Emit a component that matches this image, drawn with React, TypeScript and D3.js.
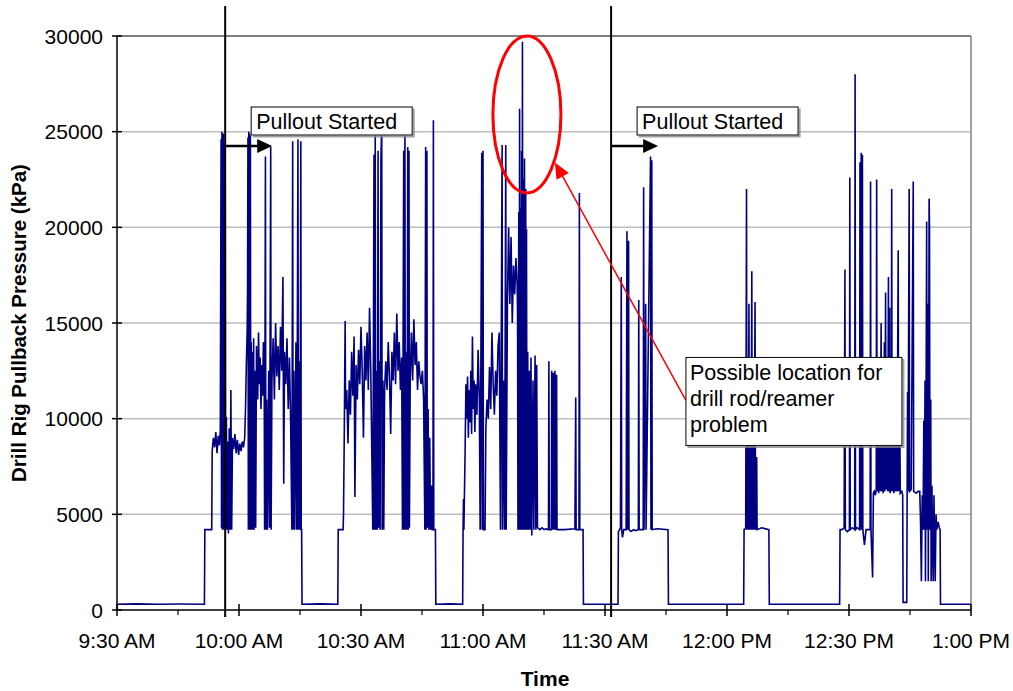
import React from 'react';
import * as d3 from 'd3';

// time = minutes after 9:30 AM, pressure in kPa
const firstPass: [number, number][] = [
  [0, 300], [5, 320], [10, 300], [15, 310], [21.5, 300],
  [21.6, 4200], [23.3, 4200],
  [23.4, 8300], [23.7, 9000], [24.0, 8500], [24.3, 9300], [24.6, 8200], [24.9, 9100], [25.2, 8600], [25.4, 9400],
  [25.6, 24600], [25.7, 4300], [25.8, 25000], [25.9, 4200], [26.0, 24800], [26.1, 4200], [26.2, 24900], [26.3, 4300],
  [26.4, 24400], [26.5, 8000], [26.6, 24300], [26.7, 4200], [26.9, 10100], [27.0, 4200], [27.2, 8800], [27.4, 4000],
  [27.6, 9500], [27.8, 4200], [28.0, 11500], [28.2, 4200], [28.4, 9000],
  [28.7, 8400], [29.0, 9200], [29.3, 8200], [29.6, 8900], [29.9, 8100], [30.2, 8700], [30.5, 8300], [30.8, 8800],
  [31.1, 8500], [31.4, 9000], [31.6, 10500], [31.8, 12800], [32.0, 14500], [32.1, 16700],
  [32.2, 24700], [32.3, 4200], [32.4, 25000], [32.5, 4200], [32.6, 24900], [32.7, 13000], [32.8, 24800], [32.9, 4200],
  [33.0, 14000], [33.1, 4200], [33.3, 13500], [33.4, 4200], [33.6, 14200], [33.7, 4200], [33.9, 12500], [34.1, 4300],
  [34.3, 13800], [34.6, 11000], [34.8, 14500], [35.0, 11800], [35.2, 13200], [35.4, 10500], [35.6, 12800],
  [35.8, 11200], [36.0, 14000], [36.2, 12000],
  [36.3, 4200], [36.5, 23700], [36.6, 4200], [36.8, 11000], [37.0, 4200], [37.3, 12500], [37.5, 4300], [37.8, 24200],
  [37.9, 4200], [38.1, 12000], [38.4, 14200], [38.7, 11000], [39.0, 15000], [39.3, 12200], [39.6, 13800],
  [39.9, 11500], [40.2, 14800], [40.5, 12500], [40.8, 17400], [41.0, 6600], [41.2, 13500], [41.5, 11800],
  [41.8, 14200], [42.1, 10500], [42.4, 13200], [42.7, 9800],
  [43.0, 4200], [43.2, 24500], [43.3, 4200], [43.5, 12500], [43.7, 4200], [44.0, 14000], [44.2, 4200],
  [44.5, 24600], [44.6, 4200], [44.8, 13000], [45.0, 4200], [45.2, 24500], [45.3, 4200], [45.4, 4200],
  [45.5, 300], [50, 320], [54.3, 300],
];

const secondPass: [number, number][] = [
  [54.4, 4200], [55.6, 4200],
  [55.7, 5000], [55.9, 9500], [56.1, 15100], [56.2, 10500], [56.5, 11500], [56.8, 8700], [57.1, 12000],
  [57.4, 10200], [57.7, 13500], [58.0, 11200], [58.3, 14300], [58.5, 5900], [58.8, 12800], [59.1, 11000],
  [59.4, 13600], [59.7, 11800], [60.0, 14800], [60.3, 12500], [60.6, 9000], [60.9, 13800], [61.2, 12000],
  [61.5, 14500], [61.8, 11500], [62.1, 15800], [62.4, 12500],
  [62.9, 4200], [63.2, 23800], [63.3, 4200], [63.5, 24900], [63.6, 4200], [63.8, 12500], [64.0, 4200],
  [64.2, 24000], [64.3, 4300], [64.5, 13000], [64.7, 4200], [64.9, 23600], [65.1, 25300], [65.2, 4200],
  [65.4, 12000], [65.6, 4200], [65.8, 11500],
  [66.1, 13000], [66.4, 11500], [66.7, 14000], [67.0, 12200], [67.3, 9200], [67.6, 13500], [67.9, 12000],
  [68.2, 14500], [68.5, 11800], [68.8, 15500], [69.1, 12500], [69.4, 14000], [69.7, 11500], [70.0, 13200],
  [70.2, 4200], [70.5, 24000], [70.6, 4200], [70.8, 25100], [70.9, 4200], [71.1, 13500], [71.3, 4200],
  [71.5, 24200], [71.6, 4200], [71.8, 24000], [71.9, 4300], [72.1, 12000],
  [72.4, 14500], [72.7, 12000], [73.0, 15200], [73.3, 12800], [73.6, 14000], [73.9, 11500], [74.2, 13000],
  [74.5, 12200], [74.8, 11800], [75.1, 12500], [75.4, 11000],
  [75.7, 4200], [75.9, 24200], [76.0, 4200], [76.2, 24000], [76.3, 4300], [76.5, 10500], [76.7, 4200],
  [76.9, 9000], [77.1, 4200], [77.3, 6500], [77.5, 4200], [77.7, 4200], [77.8, 25600], [77.9, 4200], [78.3, 4200],
  [78.4, 300], [82, 320], [85.0, 300],
];

const thirdPass: [number, number][] = [
  [85.1, 4200], [85.2, 5800], [85.3, 4200], [85.6, 8300], [85.8, 11800],
  [86.0, 10000], [86.2, 12200], [86.4, 9000], [86.6, 11500], [86.8, 9800], [87.0, 12500], [87.2, 9200],
  [87.4, 14300], [87.6, 10500], [87.8, 12000], [88.0, 9300], [88.2, 11800], [88.5, 10200], [88.8, 13600], [89.1, 11000],
  [89.3, 4200], [89.7, 23900], [89.8, 4200], [90.0, 24000], [90.1, 4200], [90.5, 4200], [90.7, 9500],
  [91.0, 11000], [91.3, 10000], [91.6, 12700], [91.9, 10500], [92.2, 14500], [92.5, 11800], [92.8, 10200],
  [93.1, 12500], [93.4, 11200], [93.7, 13800], [94.0, 14500],
  [94.3, 4200], [94.7, 24300], [94.8, 4200], [95.1, 12000], [95.3, 4200], [95.6, 24300], [95.7, 4200], [96.0, 16000],
  [96.3, 20000], [96.6, 16000], [96.9, 19500], [97.2, 15000], [97.5, 18000], [97.8, 16500], [98.1, 18400],
  [98.4, 17000], [98.5, 15500],
  [98.6, 4200], [98.8, 20800], [98.9, 4200], [99.0, 26200], [99.1, 4200], [99.2, 21000], [99.3, 4200],
  [99.5, 24000], [99.6, 4200], [99.7, 29700], [99.8, 4200], [99.9, 22500], [100.0, 4200], [100.2, 23600],
  [100.3, 4200], [100.5, 22000], [100.6, 4200], [100.7, 19900], [100.8, 4200],
  [101.0, 13500], [101.2, 4200], [101.4, 12500], [101.6, 4200], [101.8, 13200], [102.0, 3900], [102.3, 12000],
  [102.5, 4200], [102.8, 13300], [103.0, 4200], [103.2, 12800], [103.4, 4300],
  [104.0, 4200], [104.5, 4300], [105.0, 4200], [105.5, 4250], [106.0, 4200],
  [106.1, 4200], [106.2, 13000], [106.3, 4200], [106.8, 4200], [106.9, 12500], [107.0, 4200], [107.3, 12400],
  [107.4, 4200], [107.7, 12500], [107.8, 4200], [108.1, 12300], [108.2, 4200],
  [110, 4200], [112.6, 4250], [112.8, 11100], [112.9, 4200], [113.6, 4200], [113.7, 21800], [113.8, 4200], [114.6, 4200],
  [114.7, 300], [118, 300], [123.2, 300],
];

const fourthPass: [number, number][] = [
  [123.3, 4100], [123.6, 4200], [123.8, 4300], [124.0, 17400], [124.1, 4200], [124.3, 3800], [124.6, 4200],
  [125.2, 4200], [125.4, 19800], [125.5, 4200], [125.8, 19300], [125.9, 4200], [126.4, 4100], [127.0, 4200],
  [127.5, 4150], [128.2, 4200], [128.3, 16200], [128.4, 4200], [129.4, 4200], [129.5, 22100], [129.6, 4200],
  [130.0, 16000], [130.1, 4200], [131.2, 23700], [131.3, 4200], [131.5, 23500], [131.6, 4200],
  [133, 4250], [135.5, 4200],
  [135.6, 300], [145, 300], [154.1, 300],
];

const fifthPass: [number, number][] = [
  [154.2, 4200], [154.3, 4200], [154.6, 4300], [154.8, 22000], [154.9, 4200], [155.1, 10000], [155.2, 4200],
  [155.4, 16000], [155.5, 4200], [155.8, 12000], [155.9, 4200], [156.1, 17700], [156.2, 4200], [156.5, 9000],
  [156.6, 4200], [156.9, 16100], [157.0, 4200], [157.3, 8000], [157.4, 4200], [158.5, 4300], [160.3, 4200],
  [160.4, 300], [170, 300], [177.7, 300],
];

const sixthPass: [number, number][] = [
  [177.8, 4200], [178.3, 4200], [178.8, 4300], [179.0, 17800], [179.1, 4200], [179.6, 4100], [180.1, 4200],
  [180.2, 22600], [180.3, 4200], [180.8, 4300], [181.4, 4200], [181.5, 28000], [181.6, 4200], [182.0, 4300],
  [182.6, 4200], [182.7, 23400], [182.8, 4200], [183.0, 23900], [183.1, 4200], [183.3, 23800], [183.4, 4200],
  [183.8, 3400], [184.2, 4200], [185.2, 4200], [185.3, 22400], [185.4, 4200], [185.8, 1700], [186.0, 6100],
  [186.2, 6200], [186.5, 6000], [186.7, 6300], [186.8, 22500], [186.9, 6200], [187.2, 9000], [187.3, 6100],
  [187.6, 11500], [187.7, 6200], [187.9, 15000], [188.0, 6200], [188.3, 12500], [188.4, 6100], [188.7, 14000],
  [188.8, 6200], [189.0, 16600], [189.1, 6300], [189.4, 13000], [189.5, 6200], [189.7, 17400], [189.8, 6200],
  [190.0, 15800], [190.1, 6100], [190.3, 10500], [190.4, 6200], [190.5, 22000], [190.6, 6200], [190.9, 11000],
  [191.0, 6100], [191.3, 12500], [191.4, 6200], [191.7, 9000], [191.8, 6200], [192.1, 18800], [192.2, 6200],
  [192.5, 10000], [192.6, 6100], [193.0, 6200], [193.2, 6000], [193.3, 400], [194.2, 400], [194.3, 6200],
  [194.4, 11400], [194.5, 6200], [194.8, 22000], [194.9, 6200], [195.3, 6300], [195.8, 22400], [195.9, 6200],
  [196.5, 6100], [197.0, 6200], [197.4, 6200],
  [197.6, 4500], [197.8, 1500], [198.0, 6000], [198.2, 4200], [198.4, 9900], [198.5, 4200], [198.7, 12000],
  [198.8, 1500], [199.0, 14000], [199.1, 20300], [199.2, 4200], [199.4, 16000], [199.5, 1500], [199.7, 21500],
  [199.8, 20000], [199.9, 4200], [200.1, 11000], [200.2, 1500], [200.4, 6500], [200.5, 4200], [200.7, 1500],
  [200.9, 6000], [201.0, 4200], [201.2, 1500], [201.4, 5000], [201.6, 4200], [201.9, 4600], [202.2, 4300],
  [202.4, 4200], [202.5, 300], [206, 300], [210, 300],
];

const pressure = [...firstPass, ...secondPass, ...thirdPass, ...fourthPass, ...fifthPass, ...sixthPass];

const yTicks = [0, 5000, 10000, 15000, 20000, 25000, 30000];
const xTickMinutes = [0, 30, 60, 90, 120, 150, 180, 210];
const xTickLabels = ['9:30 AM', '10:00 AM', '10:30 AM', '11:00 AM', '11:30 AM', '12:00 PM', '12:30 PM', '1:00 PM'];
const xMinorMinutes = [15, 45, 75, 105, 135, 165, 195];
const pulloutMinutes = [26.6, 121.5];
const noteLines = ['Possible location for', 'drill rod/reamer', 'problem'];

const width = 1013;
const height = 691;
const margin = { top: 36, right: 42, bottom: 81, left: 117 };
const font = '"Liberation Sans", Arial, sans-serif';

export default function App() {
  const x = d3.scaleLinear().domain([0, 210]).range([margin.left, width - margin.right]);
  const y = d3.scaleLinear().domain([0, 30000]).range([height - margin.bottom, margin.top]);
  const line = d3.line<[number, number]>().x(d => x(d[0])).y(d => y(d[1]));

  const x0 = x(0), x1 = x(210), yb = y(0), yt = y(30000);

  // red ellipse around the big spike, arrow tip on its edge
  const ellCx = x(100.8), ellCy = y(25900);
  const tipX = ellCx + 28, tipY = ellCy + 48;
  const noteX = x(139.9), noteY = y(13200);
  const fromX = noteX, fromY = noteY + 43;
  const ang = Math.atan2(tipY - fromY, tipX - fromX);

  return (
    <svg width={width} height={height} style={{ position: 'absolute', left: 0, top: 0, background: '#fff' }}
      fontFamily={font}>
      <defs>
        <filter id="shadow" x="-5%" y="-5%" width="115%" height="130%">
          <feDropShadow dx="2" dy="2" stdDeviation="0.6" floodColor="#888" floodOpacity="0.8" />
        </filter>
      </defs>
      <rect width={width} height={height} fill="#fff" />

      {/* gridlines */}
      {yTicks.filter(v => v > 0 && v < 30000).map(v => (
        <line key={v} x1={x0} x2={x1} y1={y(v)} y2={y(v)} stroke="#bdbdbd" strokeWidth={1.5} />
      ))}
      <line x1={x0} x2={x1} y1={yt} y2={yt} stroke="#000" strokeWidth={1.2} />
      <line x1={x1} x2={x1} y1={yt} y2={yb} stroke="#808080" strokeWidth={1.5} />

      {/* data */}
      <path d={line(pressure) ?? ''} fill="none" stroke="#000080" strokeWidth={1.6} />

      {/* axes */}
      <line x1={x0} x2={x0} y1={yt} y2={yb} stroke="#000" strokeWidth={1.5} />
      <line x1={x0} x2={x1} y1={yb} y2={yb} stroke="#000" strokeWidth={1.5} />
      {yTicks.map(v => (
        <g key={v}>
          <line x1={x0 - 5} x2={x0 + 5} y1={y(v)} y2={y(v)} stroke="#000" strokeWidth={1.5} />
          <text x={x0 - 14} y={y(v)} dy="0.36em" textAnchor="end" fontSize={21}>{v}</text>
        </g>
      ))}
      {xTickMinutes.map((m, i) => (
        <g key={m}>
          <line x1={x(m)} x2={x(m)} y1={yb - 6} y2={yb + 6} stroke="#000" strokeWidth={1.5} />
          <text x={x(m)} y={yb + 38} textAnchor="middle" fontSize={21}>{xTickLabels[i]}</text>
        </g>
      ))}
      {xMinorMinutes.map(m => (
        <line key={m} x1={x(m)} x2={x(m)} y1={yb} y2={yb + 5} stroke="#000" strokeWidth={1.2} />
      ))}

      <text x={545} y={height - 5} textAnchor="middle" fontSize={21} fontWeight="bold">Time</text>
      <text transform={`translate(26,${y(15000)}) rotate(-90)`} textAnchor="middle" fontSize={20.5} fontWeight="bold">
        Drill Rig Pullback Pressure (kPa)
      </text>

      {/* pullout markers */}
      {pulloutMinutes.map(m => {
        const px = x(m);
        return (
          <g key={m}>
            <line x1={px} x2={px} y1={6} y2={yb + 7} stroke="#000" strokeWidth={2} />
            <rect x={px + 26} y={107} width={161} height={28} fill="#fff" stroke="#000" strokeWidth={1}
              filter="url(#shadow)" />
            <text x={px + 31} y={129} fontSize={21.5}>Pullout Started</text>
            <line x1={px} x2={px + 34} y1={146} y2={146} stroke="#000" strokeWidth={2.5} />
            <path d={`M${px + 32},${139} L${px + 47},${146} L${px + 32},${153} Z`} fill="#000" />
          </g>
        );
      })}

      {/* problem annotation */}
      <ellipse cx={ellCx} cy={ellCy} rx={34} ry={78.5} fill="none" stroke="#ff0000" strokeWidth={3} />
      <line x1={fromX} y1={fromY} x2={tipX - 12 * Math.cos(ang)} y2={tipY - 12 * Math.sin(ang)}
        stroke="#ff0000" strokeWidth={1.5} />
      <path
        d={`M${tipX},${tipY} L${tipX - 16 * Math.cos(ang) + 7 * Math.sin(ang)},${tipY - 16 * Math.sin(ang) - 7 * Math.cos(ang)} L${tipX - 16 * Math.cos(ang) - 7 * Math.sin(ang)},${tipY - 16 * Math.sin(ang) + 7 * Math.cos(ang)} Z`}
        fill="#ff0000" />
      <rect x={noteX} y={noteY} width={216} height={88} fill="#fff" stroke="#000" strokeWidth={1}
        filter="url(#shadow)" />
      {noteLines.map((t, i) => (
        <text key={t} x={noteX + 4} y={noteY + 23 + i * 26} fontSize={21.5}>{t}</text>
      ))}
    </svg>
  );
}
